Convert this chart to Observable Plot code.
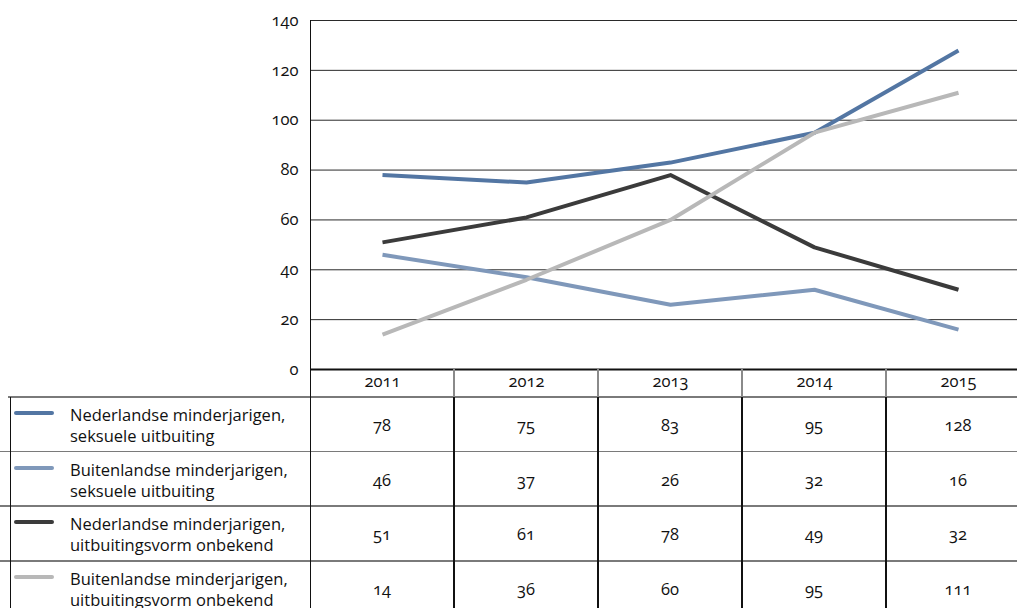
<!DOCTYPE html>
<html>
<head>
<meta charset="utf-8">
<script src="https://cdn.jsdelivr.net/npm/d3@7"></script>
<script src="https://cdn.jsdelivr.net/npm/@observablehq/plot@0.6"></script>
<style>
  html, body { margin: 0; padding: 0; background: #fff; }
  #wrap { position: relative; width: 1017px; height: 608px; overflow: hidden; font-family: "Open Sans", "Noto Sans", sans-serif; color: #111; }
  #chart svg { display: block; }
  #chart svg text { font-family: "Open Sans", "Noto Sans", sans-serif; font-size: 16.5px; font-variant-numeric: oldstyle-nums; }
  .ln { position: absolute; }
  .cell { position: absolute; display: flex; align-items: center; justify-content: center; font-size: 16.5px; font-variant-numeric: oldstyle-nums; }
  .leg { position: absolute; font-size: 16.5px; line-height: 21px; white-space: nowrap; }
  .sw { position: absolute; height: 4px; border-radius: 2px; }
</style>
</head>
<body>
<div id="wrap"><div id="chart"></div></div>
<script>
const years = ["2011", "2012", "2013", "2014", "2015"];
const seriesNames = [
  "Nederlandse minderjarigen, seksuele uitbuiting",
  "Buitenlandse minderjarigen, seksuele uitbuiting",
  "Nederlandse minderjarigen, uitbuitingsvorm onbekend",
  "Buitenlandse minderjarigen, uitbuitingsvorm onbekend"
];
const nlSeksueel = [78, 75, 83, 95, 128];
const buSeksueel = [46, 37, 26, 32, 16];
const nlOnbekend = [51, 61, 78, 49, 32];
const buOnbekend = [14, 36, 60, 95, 111];
const colors = ["#5376a3", "#7f98ba", "#3b3b3b", "#b8b8b8"];
const yTicks = [0, 20, 40, 60, 80, 100, 120, 140];

const seriesValues = [nlSeksueel, buSeksueel, nlOnbekend, buOnbekend];
const data = [];
seriesNames.forEach((s, i) => years.forEach((y, j) => data.push({series: s, year: y, value: seriesValues[i][j]})));

const chart = Plot.plot({
  width: 1017,
  height: 397,
  marginTop: 20,
  marginBottom: 28,
  marginLeft: 310,
  marginRight: 0,
  x: {type: "point", domain: years, range: [382, 958], padding: 0, label: null},
  y: {domain: [0, 140], label: null},
  color: {domain: seriesNames, range: colors},
  style: {fontSize: "16px", color: "#111"},
  marks: [
    Plot.ruleY(yTicks.filter(d => d > 0), {stroke: "#2a2a2a", strokeWidth: 1}),
    Plot.frame({anchor: "left", stroke: "#111", strokeWidth: 1}),
    Plot.line(data, {x: "year", y: "value", z: "series", stroke: "series", strokeWidth: 4, strokeLinejoin: "round", strokeLinecap: "butt"}),
    Plot.ruleY([0], {stroke: "#111", strokeWidth: 2}),
    Plot.axisY({ticks: yTicks, tickSize: 0, tickPadding: 12, label: null, fill: "#111"}),
    Plot.axisX({tickSize: 0, tickPadding: 6, label: null, fill: "#111"})
  ]
});
const wrap = document.getElementById("wrap");
document.getElementById("chart").appendChild(chart);

const xs = chart.scale("x");
const step = xs.apply(years[1]) - xs.apply(years[0]);
const bounds = years.map(y => xs.apply(y) - step / 2);
const headerTop = 369, rowTop = 397, rowH = 54.7;

function line(left, top, w, h, color) {
  const d = document.createElement("div");
  d.className = "ln";
  Object.assign(d.style, {left: left + "px", top: top + "px", width: w + "px", height: h + "px", background: color});
  wrap.appendChild(d);
}

// row separators
for (let i = 0; i <= seriesNames.length; i++) {
  const y = rowTop + i * rowH;
  line(i === 0 ? 8 : 0, y - 1, 1017, 1.6, "#7a7a7a");
}
// header column separators (gray)
bounds.slice(1).forEach(b => line(b - 0.75, headerTop, 1.5, rowTop - headerTop, "#8a8a8a"));
// data column separators (black)
bounds.slice(1).forEach((b, i) => {
  const w = i % 2 === 0 ? 2 : 1.2;
  line(b - w / 2, rowTop, w, 608 - rowTop, "#111");
});
// left axis line continuation and table left border
line(309.5, headerTop, 1.2, 608 - headerTop, "#111");
line(9.5, rowTop, 1.2, 608 - rowTop, "#111");

// table cells
seriesNames.forEach((s, i) => {
  const top = rowTop + i * rowH;
  const sw = document.createElement("div");
  sw.className = "sw";
  Object.assign(sw.style, {left: "14px", top: (top + 14) + "px", width: "40px", background: colors[i]});
  wrap.appendChild(sw);
  const lg = document.createElement("div");
  lg.className = "leg";
  lg.style.left = "70px";
  lg.style.top = (top + 7) + "px";
  const parts = s.split(", ");
  lg.innerHTML = parts[0] + ",<br>" + parts[1];
  wrap.appendChild(lg);
  years.forEach((y, j) => {
    const c = document.createElement("div");
    c.className = "cell";
    Object.assign(c.style, {left: bounds[j] + "px", top: top + "px", width: step + "px", height: rowH + "px"});
    c.textContent = seriesValues[i][j];
    wrap.appendChild(c);
  });
});
</script>
</body>
</html>
